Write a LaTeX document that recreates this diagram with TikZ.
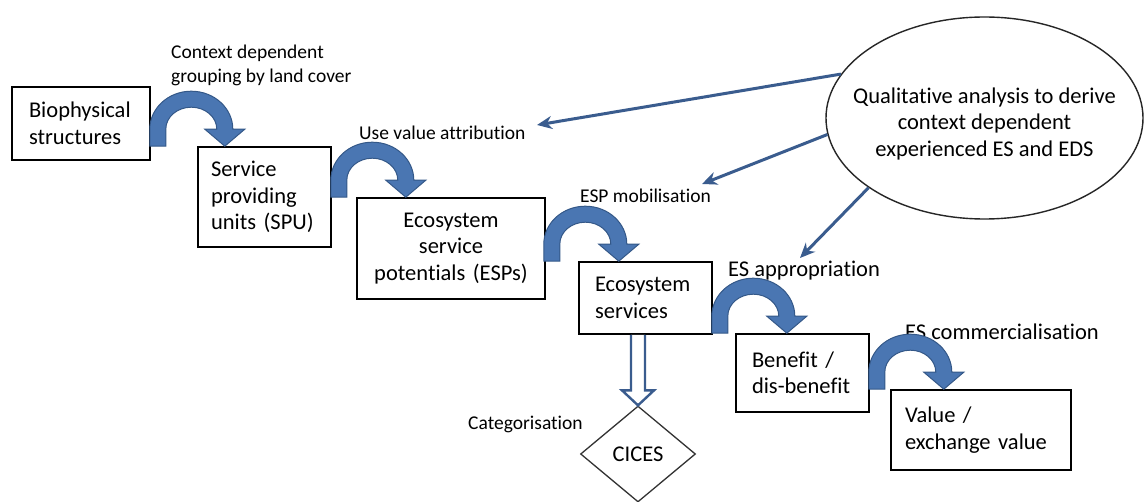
\documentclass[tikz,border=0pt]{standalone}
\usepackage{fontspec}
\setmainfont{Carlito}[Ligatures=NoCommon]
\usetikzlibrary{shapes.geometric,arrows.meta,calc}
\definecolor{bendfill}{RGB}{74,118,178}
\definecolor{bendline}{RGB}{52,88,136}
\definecolor{linkblue}{RGB}{58,92,142}
\newcommand\boxfont{\fontsize{22.5}{26.5}\selectfont}
\newcommand\lblfont{\fontsize{19.5}{24}\selectfont}
\newcommand\biglblfont{\fontsize{22.5}{26.5}\selectfont}
\tikzset{
  box/.style={draw=black, line width=1.6pt, rectangle, inner ysep=0pt, font=\boxfont},
  lbl/.style={font=\lblfont, inner sep=0pt},
  biglbl/.style={font=\biglblfont, inner sep=0pt},
  link/.style={draw=linkblue, line width=3pt, -{Stealth[length=15pt,width=13pt]}},
  hollow/.style={draw=linkblue, line width=2.4pt, fill=white, line join=miter},
  bendarrow/.pic={
    \path[fill=bendfill, draw=bendline, line width=1pt]
      (0,0) -- (0,-17) arc[start angle=180, end angle=360, x radius=41.5, y radius=38]
      -- (95,-17) -- (75,0) -- (55,-17) -- (67,-17)
      arc[start angle=360, end angle=180, x radius=25.5, y radius=22]
      -- (16,-17) -- (16,0) -- cycle;
  }
}
\begin{document}
\begin{tikzpicture}[x=1pt,y=-1pt]
\useasboundingbox[fill=white] (0,0) rectangle (1144,502);

% boxes
\node[box, text width=104, align=left, inner xsep=17, minimum height=73] (bio) at (81,123.5) {Biophysical\\structures};
\node[box, text width=107, align=left, inner xsep=13, minimum height=100] (spu) at (264.5,197) {Service\\providing\\units (SPU)};
\node[box, text width=160, align=center, inner xsep=14, minimum height=101] (esp) at (451,248.5) {Ecosystem\\service\\potentials (ESPs)};
\node[box, text width=101, align=left, inner xsep=16, minimum height=72] (es) at (645.5,298) {Ecosystem\\services};
\node[box, text width=101, align=left, inner xsep=16, minimum height=78] (ben) at (802.5,373) {Benefit /\\dis-benefit};
\node[box, text width=152, align=left, inner xsep=14, minimum height=80] (val) at (981,430) {Value /\\exchange value};

% ellipse and diamond
\node[draw=black!85, ellipse, line width=1.4pt, minimum width=317, minimum height=202, inner sep=0pt] (qa) at (984.5,118) {};
\node[align=center, font=\boxfont, inner sep=0pt] (qatext) at (984.5,124) {Qualitative analysis to derive\\context dependent\\experienced ES and EDS};
\node[draw=black!80, diamond, aspect=1.2, minimum width=115, minimum height=96, inner sep=0pt, line width=1.3pt, font=\boxfont] (cices) at (638,454) {CICES};

% labels
\node[lbl, anchor=west, align=left] (l1) at (171,65) {Context dependent\\grouping by land cover};
\node[lbl, anchor=base west] (l2) at (359,140) {Use value attribution};
\node[lbl, anchor=base west] (l3) at (580,203) {ESP mobilisation};
\node[biglbl, anchor=base west] (l4) at (728,277) {ES appropriation};
\node[biglbl, anchor=base west] (l5) at (905,340) {ES commercialisation};
\node[lbl, anchor=base west] (l6) at (468,430) {Categorisation};

% curved block arrows between steps
\pic at ($(bio.east |- spu.north)+(-1,0)$) {bendarrow};
\pic at ($(spu.east |- esp.north)+(-1,0)$) {bendarrow};
\pic at ($(esp.east |- es.north)+(-2,0)$) {bendarrow};
\pic at ($(es.east |- ben.north)+(-1,0)$) {bendarrow};
\pic at ($(ben.east |- val.north)+(-1,0)$) {bendarrow};

% hollow arrow to CICES
\draw[hollow] ($(cices.north |- es.south)+(-7,0)$) -- ($(cices.north)+(-7,-15)$) -- ($(cices.north)+(-16,-15)$) -- (cices.north) -- ($(cices.north)+(16,-15)$) -- ($(cices.north)+(7,-15)$) -- ($(cices.north |- es.south)+(7,0)$);

% arrows from the qualitative analysis
\coordinate (t1) at (537,125);
\coordinate (t2) at (702,184);
\coordinate (t3) at (800,258);
\draw[link] (qa.163.7) -- (t1);
\draw[link] (qa.186.7) -- (t2);
\draw[link] (qa.211.6) -- (t3);
\end{tikzpicture}
\end{document}
